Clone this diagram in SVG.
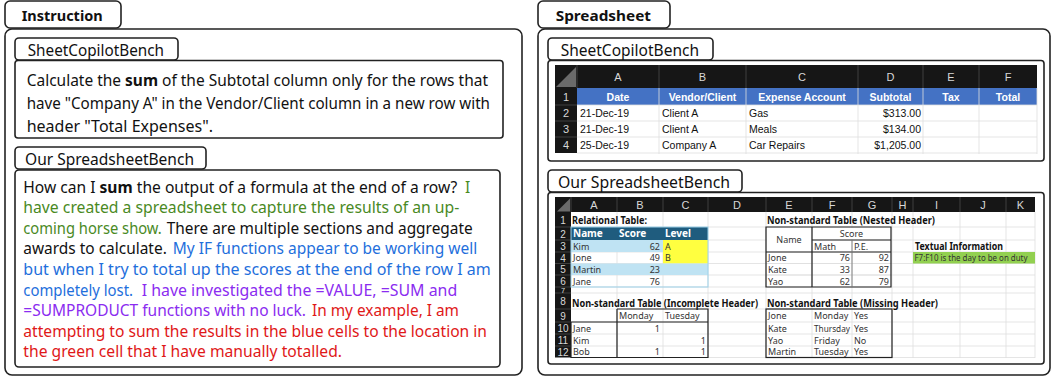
<svg xmlns="http://www.w3.org/2000/svg" width="1053" height="377" viewBox="0 0 1053 377">
<style>
.box{fill:#fff;stroke:#222;stroke-width:1.6}
.hand{font-family:"Noto Sans","DejaVu Sans",sans-serif;font-size:15.5px;fill:#111}
.tab{font-family:"Noto Sans","DejaVu Sans",sans-serif;font-size:16.5px;fill:#111}
.tabb{font-family:"Noto Sans","DejaVu Sans",sans-serif;font-size:15px;font-weight:bold;fill:#111}
.b{font-weight:bold}
.g{fill:#4a8a1f}.bl{fill:#1f6fdc}.pu{fill:#8b2cf0}.rd{fill:#e01818}
.dark{fill:#161616}
.colh{font-family:"Liberation Sans",Arial,sans-serif;font-size:11px;fill:#d8d8d8;text-anchor:middle}
.rown{font-family:"Liberation Sans",Arial,sans-serif;font-size:11px;fill:#d8d8d8;text-anchor:middle}
.rown2{font-family:"Liberation Sans",Arial,sans-serif;font-size:10px;fill:#d8d8d8;text-anchor:middle}
.x1{font-family:"Liberation Sans",Arial,sans-serif;font-size:10.5px;fill:#111}
.x1h{font-family:"Liberation Sans",Arial,sans-serif;font-size:10.5px;fill:#fff;font-weight:bold;text-anchor:middle}
.x2{font-family:"Noto Sans","Liberation Sans",sans-serif;font-size:9px;fill:#333}
.x2t{font-family:"Noto Sans","Liberation Sans",sans-serif;font-size:10.5px;font-weight:bold;fill:#111}
.x2w{font-family:"Noto Sans","Liberation Sans",sans-serif;font-size:10px;font-weight:bold;fill:#fff}
.r{text-anchor:end}.m{text-anchor:middle}
.grid{stroke:#dedede;stroke-width:0.8;fill:none}
.hsep{stroke:#4a4a4a;stroke-width:0.8}
.tline{stroke:#222;stroke-width:1.2;fill:none}
.corner{fill:#6a6a6a}
</style>

<!-- LEFT: Instruction panel -->
<g id="instruction-panel">
  <rect class="box" x="5" y="1" width="116" height="27" rx="5"/>
  <rect class="box" x="5" y="29" width="517" height="346" rx="7"/>
  <text class="tabb" x="21.7" y="21" textLength="81" lengthAdjust="spacingAndGlyphs">Instruction</text>
</g>

<g id="instruction-sheetcopilot">
  <rect class="box" x="15" y="38" width="163" height="22" rx="4"/>
  <rect class="box" x="15" y="60.5" width="488" height="77.5" rx="3"/>
  <text class="tab" x="27.7" y="55.5" textLength="136.3" lengthAdjust="spacingAndGlyphs">SheetCopilotBench</text>
  <text class="hand" x="26.7" y="86" textLength="461.3" lengthAdjust="spacingAndGlyphs">Calculate the <tspan class="b">sum</tspan> of the Subtotal column only for the rows that</text>
  <text class="hand" x="26.7" y="108.8" textLength="463.3" lengthAdjust="spacingAndGlyphs">have "Company A" in the Vendor/Client column in a new row with</text>
  <text class="hand" x="26.7" y="131.5" textLength="186.3" lengthAdjust="spacingAndGlyphs">header "Total Expenses".</text>
</g>

<g id="instruction-ours">
  <rect class="box" x="15" y="147" width="191" height="22" rx="4"/>
  <rect class="box" x="15" y="170" width="485" height="197" rx="4"/>
  <text class="tab" x="25" y="165" textLength="169" lengthAdjust="spacingAndGlyphs">Our SpreadsheetBench</text>
  <text class="hand" x="23.3" y="192.7" textLength="434" lengthAdjust="spacingAndGlyphs">How can I <tspan class="b">sum</tspan> the output of a formula at the end of a row?</text>
  <text class="hand g" x="465" y="192.7">I</text>
  <text class="hand g" x="23.3" y="213.3" textLength="436" lengthAdjust="spacingAndGlyphs">have created a spreadsheet to capture the results of an up-</text>
  <text class="hand g" x="23.3" y="233.9" textLength="138.5" lengthAdjust="spacingAndGlyphs">coming horse show.</text>
  <text class="hand" x="166.7" y="233.9" textLength="306" lengthAdjust="spacingAndGlyphs">There are multiple sections and aggregate</text>
  <text class="hand" x="23.3" y="254.4" textLength="143.5" lengthAdjust="spacingAndGlyphs">awards to calculate.</text>
  <text class="hand bl" x="172.7" y="254.4" textLength="304.5" lengthAdjust="spacingAndGlyphs">My IF functions appear to be working well</text>
  <text class="hand bl" x="23.3" y="275" textLength="467.5" lengthAdjust="spacingAndGlyphs">but when I try to total up the scores at the end of the row I am</text>
  <text class="hand bl" x="23.3" y="295.6" textLength="109.7" lengthAdjust="spacingAndGlyphs">completely lost.</text>
  <text class="hand pu" x="141.7" y="295.6" textLength="315.5" lengthAdjust="spacingAndGlyphs">I have investigated the =VALUE, =SUM and</text>
  <text class="hand pu" x="23.3" y="316.2" textLength="282.7" lengthAdjust="spacingAndGlyphs">=SUMPRODUCT functions with no luck.</text>
  <text class="hand rd" x="312" y="316.2" textLength="147" lengthAdjust="spacingAndGlyphs">In my example, I am</text>
  <text class="hand rd" x="23.3" y="336.7" textLength="463.7" lengthAdjust="spacingAndGlyphs">attempting to sum the results in the blue cells to the location in</text>
  <text class="hand rd" x="23.3" y="357.3" textLength="318.7" lengthAdjust="spacingAndGlyphs">the green cell that I have manually totalled.</text>
</g>

<!-- RIGHT: Spreadsheet panel -->
<g id="spreadsheet-panel">
  <rect class="box" x="538" y="1" width="132" height="27" rx="5"/>
  <rect class="box" x="538" y="29" width="512" height="346" rx="7"/>
  <text class="tabb" x="555.7" y="21" textLength="95.3" lengthAdjust="spacingAndGlyphs">Spreadsheet</text>
</g>

<g id="sheet-sheetcopilot">
  <rect class="box" x="548" y="38" width="165" height="22" rx="4"/>
  <rect class="box" x="548" y="60.5" width="496" height="100.5" rx="3"/>
  <text class="tab" x="560.7" y="55.5" textLength="138.3" lengthAdjust="spacingAndGlyphs">SheetCopilotBench</text>
  <rect class="dark" x="555" y="65" width="482" height="23"/>
  <rect class="dark" x="555" y="88" width="22" height="65"/>
  <polygon class="corner" points="576,67 576,87 556,87"/>
  <rect x="577" y="88" width="460" height="17" fill="#4472c4"/>
  <g class="hsep">
    <line x1="577" y1="65" x2="577" y2="88"/><line x1="659" y1="65" x2="659" y2="88"/><line x1="746" y1="65" x2="746" y2="88"/>
    <line x1="858" y1="65" x2="858" y2="88"/><line x1="923" y1="65" x2="923" y2="88"/><line x1="979" y1="65" x2="979" y2="88"/>
    <line x1="555" y1="105" x2="577" y2="105"/><line x1="555" y1="121" x2="577" y2="121"/><line x1="555" y1="137" x2="577" y2="137"/>
  </g>
  <g class="grid">
    <line x1="659" y1="88" x2="659" y2="154"/><line x1="746" y1="88" x2="746" y2="154"/><line x1="858" y1="88" x2="858" y2="154"/>
    <line x1="923" y1="88" x2="923" y2="154"/><line x1="979" y1="88" x2="979" y2="154"/><line x1="1037" y1="88" x2="1037" y2="154"/>
    <line x1="577" y1="105" x2="1037" y2="105"/><line x1="577" y1="121" x2="1037" y2="121"/>
    <line x1="577" y1="137" x2="1037" y2="137"/><line x1="577" y1="153" x2="1037" y2="153"/>
  </g>
  <g class="colh">
    <text x="618" y="80.5">A</text><text x="702.5" y="80.5">B</text><text x="802" y="80.5">C</text>
    <text x="890.5" y="80.5">D</text><text x="951" y="80.5">E</text><text x="1008" y="80.5">F</text>
  </g>
  <g class="rown">
    <text x="566" y="100.5">1</text><text x="566" y="117">2</text><text x="566" y="133">3</text><text x="566" y="149">4</text>
  </g>
  <g class="x1h">
    <text x="618" y="100.5">Date</text><text x="702.5" y="100.5">Vendor/Client</text><text x="802" y="100.5">Expense Account</text>
    <text x="890.5" y="100.5">Subtotal</text><text x="951" y="100.5">Tax</text><text x="1008" y="100.5">Total</text>
  </g>
  <g class="x1">
    <text x="580" y="117">21-Dec-19</text><text x="662" y="117">Client A</text><text x="749" y="117">Gas</text><text class="r" x="921" y="117">$313.00</text>
    <text x="580" y="133">21-Dec-19</text><text x="662" y="133">Client A</text><text x="749" y="133">Meals</text><text class="r" x="921" y="133">$134.00</text>
    <text x="580" y="149">25-Dec-19</text><text x="662" y="149">Company A</text><text x="749" y="149">Car Repairs</text><text class="r" x="921" y="149">$1,205.00</text>
  </g>
</g>

<g id="sheet-ours">
  <rect class="box" x="548" y="170" width="194" height="22" rx="4"/>
  <rect class="box" x="548" y="192.5" width="496" height="171.5" rx="3"/>
  <text class="tab" x="558" y="187.5" textLength="172" lengthAdjust="spacingAndGlyphs">Our SpreadsheetBench</text>
  <rect class="dark" x="555" y="197" width="480" height="15"/>
  <rect class="dark" x="555" y="212" width="16" height="145.5"/>
  <polygon class="corner" points="570,198.5 570,211.5 557,211.5"/>
  <g class="hsep">
    <line x1="571" y1="197" x2="571" y2="212"/><line x1="617" y1="197" x2="617" y2="212"/><line x1="663" y1="197" x2="663" y2="212"/>
    <line x1="708" y1="197" x2="708" y2="212"/><line x1="766" y1="197" x2="766" y2="212"/><line x1="812" y1="197" x2="812" y2="212"/>
    <line x1="852" y1="197" x2="852" y2="212"/><line x1="892" y1="197" x2="892" y2="212"/><line x1="913" y1="197" x2="913" y2="212"/>
    <line x1="960" y1="197" x2="960" y2="212"/><line x1="1006" y1="197" x2="1006" y2="212"/>
    <line x1="555" y1="227" x2="571" y2="227"/><line x1="555" y1="240" x2="571" y2="240"/><line x1="555" y1="252" x2="571" y2="252"/>
    <line x1="555" y1="263.5" x2="571" y2="263.5"/><line x1="555" y1="275" x2="571" y2="275"/><line x1="555" y1="287" x2="571" y2="287"/>
    <line x1="555" y1="293" x2="571" y2="293"/><line x1="555" y1="309" x2="571" y2="309"/><line x1="555" y1="322" x2="571" y2="322"/>
    <line x1="555" y1="334" x2="571" y2="334"/><line x1="555" y1="346" x2="571" y2="346"/>
  </g>
  <g class="grid">
    <line x1="571" y1="227" x2="1035" y2="227"/><line x1="571" y1="240" x2="1035" y2="240"/><line x1="571" y1="252" x2="1035" y2="252"/>
    <line x1="571" y1="263.5" x2="1035" y2="263.5"/><line x1="571" y1="275" x2="1035" y2="275"/><line x1="571" y1="287" x2="1035" y2="287"/>
    <line x1="571" y1="293" x2="1035" y2="293"/><line x1="571" y1="309" x2="1035" y2="309"/><line x1="571" y1="322" x2="1035" y2="322"/>
    <line x1="571" y1="334" x2="1035" y2="334"/><line x1="571" y1="346" x2="1035" y2="346"/><line x1="571" y1="357.5" x2="1035" y2="357.5"/>
    <line x1="617" y1="212" x2="617" y2="358"/><line x1="663" y1="212" x2="663" y2="358"/><line x1="708" y1="212" x2="708" y2="358"/>
    <line x1="766" y1="212" x2="766" y2="358"/><line x1="812" y1="212" x2="812" y2="358"/><line x1="852" y1="212" x2="852" y2="358"/>
    <line x1="892" y1="212" x2="892" y2="358"/><line x1="913" y1="212" x2="913" y2="358"/><line x1="960" y1="212" x2="960" y2="358"/>
    <line x1="1006" y1="212" x2="1006" y2="358"/><line x1="1035" y1="212" x2="1035" y2="358"/>
  </g>
  <g class="colh">
    <text x="594" y="208.5">A</text><text x="640" y="208.5">B</text><text x="685.5" y="208.5">C</text><text x="737" y="208.5">D</text>
    <text x="789" y="208.5">E</text><text x="832" y="208.5">F</text><text x="872" y="208.5">G</text><text x="902.5" y="208.5">H</text>
    <text x="936.5" y="208.5">I</text><text x="983" y="208.5">J</text><text x="1020.5" y="208.5">K</text>
  </g>
  <g class="rown2">
    <text x="563" y="223.5">1</text><text x="563" y="237.5">2</text><text x="563" y="250">3</text><text x="563" y="261.7">4</text>
    <text x="563" y="273.2">5</text><text x="563" y="285">6</text><text x="563" y="293" font-size="7.5">7</text><text x="563" y="305">8</text>
    <text x="563" y="319.5">9</text><text x="563" y="332">10</text><text x="563" y="344">11</text><text x="563" y="355.7">12</text>
  </g>
  <!-- Relational table -->
  <rect x="571" y="227" width="137" height="13" fill="#1f5c7e"/>
  <rect x="571" y="240" width="92" height="12" fill="#bfe3f3"/>
  <rect x="663" y="240" width="45" height="23.5" fill="#ffff40"/>
  <rect x="571" y="263.5" width="137" height="11.5" fill="#bfe3f3"/>
  <rect x="571" y="227" width="137" height="60" fill="none" stroke="#9dd2ea" stroke-width="1"/>
  <text class="x2t" x="572" y="223.5" textLength="75" lengthAdjust="spacingAndGlyphs">Relational Table:</text>
  <g class="x2w"><text x="573" y="237">Name</text><text x="619" y="237">Score</text><text x="665" y="237">Level</text></g>
  <g class="x2">
    <text x="573" y="249.5">Kim</text><text class="r" x="660" y="249.5">62</text><text x="665" y="249.5">A</text>
    <text x="573" y="261.3">Jone</text><text class="r" x="660" y="261.3">49</text><text x="665" y="261.3">B</text>
    <text x="573" y="272.8">Martin</text><text class="r" x="660" y="272.8">23</text>
    <text x="573" y="284.5">Jane</text><text class="r" x="660" y="284.5">76</text>
  </g>
  <!-- Incomplete header table -->
  <text class="x2t" x="572" y="306.5" font-size="9px" textLength="186" lengthAdjust="spacingAndGlyphs">Non-standard Table (Incomplete Header)</text>
  <path class="tline" d="M617,309 H708 V357.5 H571 V322 H708 M617,309 V357.5"/>
  <g class="x2">
    <text x="619" y="319">Monday</text><text x="665" y="319">Tuesday</text>
    <text x="573" y="331.5">Jane</text><text class="r" x="660" y="331.5">1</text>
    <text x="573" y="343.5">Kim</text><text class="r" x="706" y="343.5">1</text>
    <text x="573" y="355.3">Bob</text><text class="r" x="660" y="355.3">1</text><text class="r" x="706" y="355.3">1</text>
  </g>
  <!-- Nested header table -->
  <text class="x2t" x="767" y="223.5" textLength="168" lengthAdjust="spacingAndGlyphs">Non-standard Table (Nested Header)</text>
  <g class="grid"><line x1="766" y1="263.5" x2="891" y2="263.5"/><line x1="766" y1="275" x2="891" y2="275"/></g>
  <path class="tline" d="M766,227 H891 V287 H766 Z M812,227 V287 M812,240 H891 M766,252 H891"/>
  <line x1="852" y1="240" x2="852" y2="287" stroke="#777" stroke-width="0.9"/>
  <rect x="767" y="228" width="44" height="23" fill="#fff"/>
  <rect x="813" y="228" width="77" height="11" fill="#fff"/>
  <g class="x2">
    <text class="m" x="789" y="243">Name</text><text class="m" x="851.5" y="237">Score</text>
    <text x="814" y="249.5">Math</text><text x="854" y="249.5">P.E.</text>
    <text x="768" y="261.3">Jone</text><text class="r" x="850" y="261.3">76</text><text class="r" x="889" y="261.3">92</text>
    <text x="768" y="272.8">Kate</text><text class="r" x="850" y="272.8">33</text><text class="r" x="889" y="272.8">87</text>
    <text x="768" y="284.5">Yao</text><text class="r" x="850" y="284.5">62</text><text class="r" x="889" y="284.5">79</text>
  </g>
  <!-- Missing header table -->
  <text class="x2t" x="767" y="306.5" textLength="171" lengthAdjust="spacingAndGlyphs">Non-standard Table (Missing Header)</text>
  <rect class="tline" x="766" y="309" width="126" height="48.5"/>
  <g class="x2">
    <text x="768" y="319">Jone</text><text x="814" y="319">Monday</text><text x="854" y="319">Yes</text>
    <text x="768" y="331.5">Kate</text><text x="814" y="331.5" textLength="36" lengthAdjust="spacingAndGlyphs">Thursday</text><text x="854" y="331.5">Yes</text>
    <text x="768" y="343.5">Yao</text><text x="814" y="343.5">Friday</text><text x="854" y="343.5">No</text>
    <text x="768" y="355.3">Martin</text><text x="814" y="355.3">Tuesday</text><text x="854" y="355.3">Yes</text>
  </g>
  <!-- Textual information -->
  <text class="x2t" x="915" y="250" textLength="88" lengthAdjust="spacingAndGlyphs">Textual Information</text>
  <rect x="913" y="252" width="122" height="11.5" fill="#92d050"/>
  <text class="x2" x="914.5" y="261.3" textLength="113" lengthAdjust="spacingAndGlyphs">F7:F10 is the day to be on duty</text>
</g>

<g id="connectors"/>
</svg>
